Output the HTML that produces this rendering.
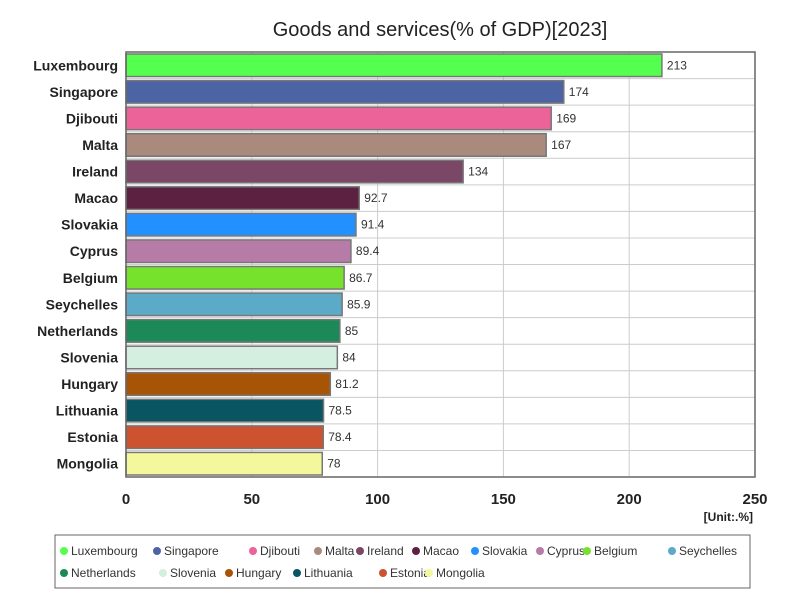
<!DOCTYPE html>
<html><head><meta charset="utf-8"><style>
body{margin:0;background:#fff;font-family:"Liberation Sans",sans-serif;}
svg text{font-family:"Liberation Sans",sans-serif;}
</style></head><body>
<svg id="c" width="800" height="600" xmlns="http://www.w3.org/2000/svg">
<text x="440" y="36" font-size="20" text-anchor="middle" fill="#222">Goods and services(% of GDP)[2023]</text>
<g id="grid"></g><g id="bars"></g><g id="labels"></g>
<text x="753" y="521" font-size="12" font-weight="bold" text-anchor="end" fill="#222">[Unit:.%]</text>
<rect x="55" y="535" width="695" height="53" fill="#fff" stroke="#666"/>
<g id="legend"></g>
</svg>
<script>
const categories=["Luxembourg","Singapore","Djibouti","Malta","Ireland","Macao","Slovakia","Cyprus","Belgium","Seychelles","Netherlands","Slovenia","Hungary","Lithuania","Estonia","Mongolia"];
const values=[213,174,169,167,134,92.7,91.4,89.4,86.7,85.9,85,84,81.2,78.5,78.4,78];
const valueLabels=["213","174","169","167","134","92.7","91.4","89.4","86.7","85.9","85","84","81.2","78.5","78.4","78"];
const colors=["#55ff4f","#4c64a4","#ec6399","#ab8a7e","#7a4766","#5c2040","#2291ff","#b77ba8","#77e22c","#5aaac8","#1c8a58","#d4eedf","#a85406","#0a5562","#cc5230","#f4f79c"];
const ticks=[0,50,100,150,200,250];
const legendX=[64,157,253,318,360,416,475,540,587,672,64,163,229,297,383,429];
const NS="http://www.w3.org/2000/svg";
const X0=126,X1=755,Y0=52,Y1=477,MAX=250;
const xs=v=>X0+(v/MAX)*(X1-X0);
const step=(Y1-Y0)/categories.length;
function mk(t,a,p){const e=document.createElementNS(NS,t);for(const k in a)e.setAttribute(k,a[k]);p.appendChild(e);return e;}
const grid=document.getElementById('grid'),bars=document.getElementById('bars'),lab=document.getElementById('labels'),leg=document.getElementById('legend');
const bg=mk('rect',{x:X0,y:Y0,width:X1-X0,height:Y1-Y0,fill:'#fff'},grid);


ticks.forEach(t=>{
 const l=mk('line',{x1:xs(t),x2:xs(t),y1:Y0,y2:Y1,stroke:'#ccc'},grid);
 
 
 const tx=mk('text',{x:xs(t),y:504,'font-size':15,'font-weight':'bold','text-anchor':'middle',fill:'#222'},lab);
 tx.textContent=t;
 
 
});
categories.forEach((c,i)=>{
 const y=Y0+i*step;
 const hl=mk('line',{x1:X0,x2:X1,y1:y,y2:y,stroke:'#ccc'},grid);
 
 
 const b=mk('rect',{x:X0,y:y+2,width:xs(values[i])-X0,height:step-4,fill:colors[i],stroke:'#777','stroke-width':1.5},bars);
 
 
 const v=mk('text',{x:xs(values[i])+5,y:y+step/2+4,'font-size':12,fill:'#333'},lab);
 v.textContent=valueLabels[i];
 
 
 const n=mk('text',{x:118,y:y+step/2+5,'font-size':14,'font-weight':'bold','text-anchor':'end',fill:'#222'},lab);
 n.textContent=c;
 
 
 const ly=i<10?551:573;
 const d=mk('circle',{cx:legendX[i],cy:ly,r:4,fill:colors[i]},leg);
 
 
 const lt=mk('text',{x:legendX[i]+7,y:ly+4,'font-size':12,fill:'#333'},leg);
 lt.textContent=c;
 
 
});
const fr=mk('rect',{x:X0,y:Y0,width:X1-X0,height:Y1-Y0,fill:'none',stroke:'#666','stroke-width':1.5},bars);


</script>
</body></html>
